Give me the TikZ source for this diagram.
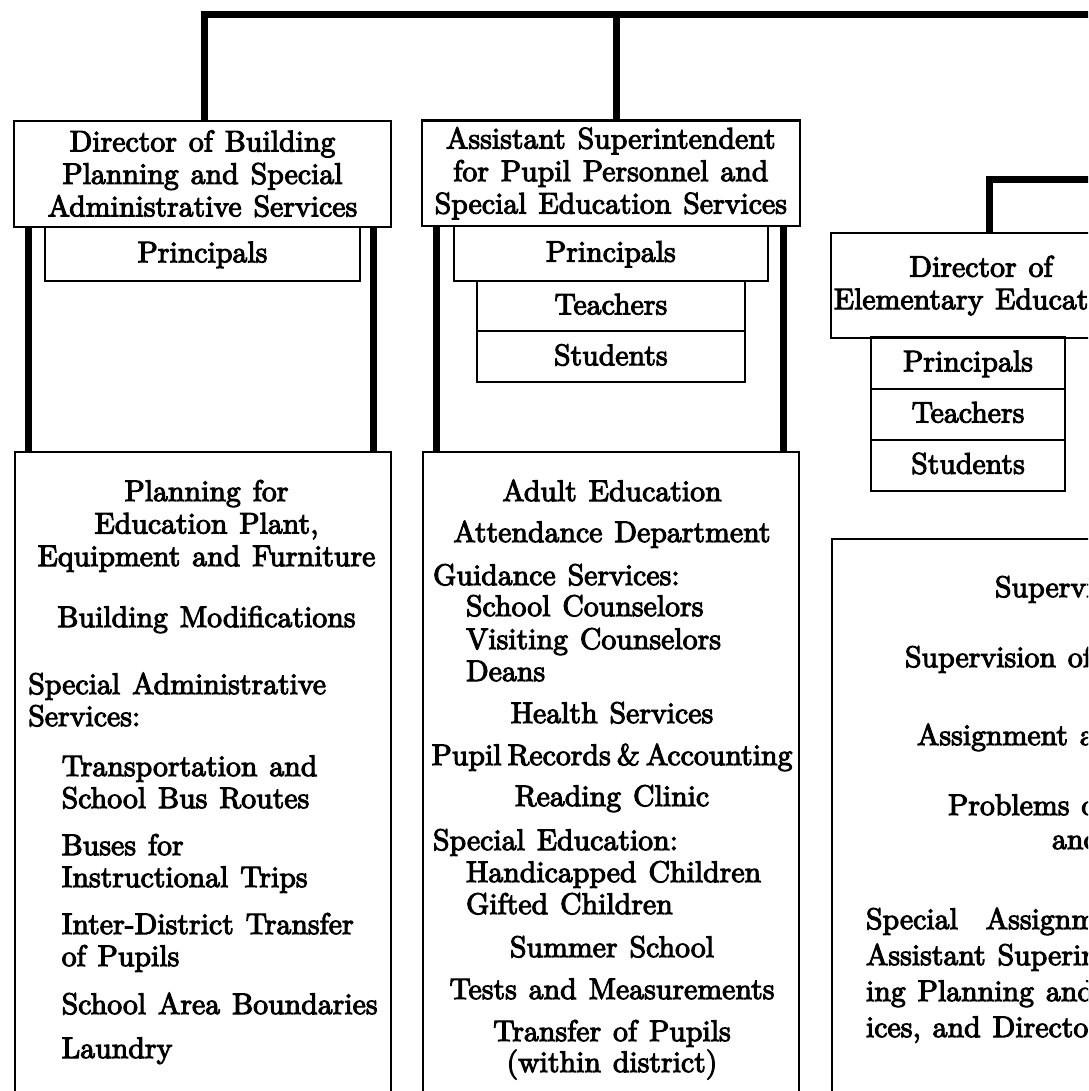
\documentclass[tikz,border=0pt]{standalone}
\usepackage{fontspec}
\newfontfamily\chartfont{lmroman10-regular.otf}[FakeBold=3.5]
\newcommand\chartsize{\chartfont\fontsize{14.9}{16.25}\selectfont\spaceskip=0.4em plus 0.1em minus 0.05em\relax}
\usetikzlibrary{positioning}

\begin{document}
\begin{tikzpicture}[x=0.5pt, y=-0.5pt,
  every node/.style={font=\chartsize, inner sep=0pt, outer sep=0pt},
  hd/.style={draw, line width=1.1pt, align=center},
  sb/.style={draw, line width=1pt, text height=10.4pt, text depth=2pt},
  du/.style={draw, line width=0.9pt, anchor=north},
  ln/.style={line width=3.5pt}
]
\useasboundingbox (0,0) rectangle (1088,1091);
\clip (0,0) rectangle (1088,1091);
% heads of the three columns
\node[hd, minimum width=188.2pt, minimum height=53pt] (h1) at (202.5,173.7) {Director of Building\\Planning and Special\\Administrative Services};
\node[hd, minimum width=189.15pt, minimum height=52.75pt] (h2) at (610.85,173.25) {Assistant Superintendent\\for Pupil Personnel and\\Special Education Services};
\node[hd, minimum width=150.3pt, minimum height=52.8pt] (h3) at (981,285.5) {Director of\\Elementary Educat\phantom{ion}};
% principals, teachers, students
\node[sb, minimum width=157.35pt, minimum height=27.15pt, below=0pt of h1] (p1) {Principals};
\node[sb, minimum width=157.2pt, minimum height=27.3pt, below=0pt of h2] (p2) {Principals};
\node[sb, minimum width=134.15pt, minimum height=25.4pt, below=0pt of p2] (t2) {Teachers};
\node[sb, minimum width=134.15pt, minimum height=25.4pt, below=0pt of t2] (s2) {Students};
\node[sb, minimum width=97pt, minimum height=25.6pt, anchor=north] (p3) at (968,337.3) {Principals};
\node[sb, minimum width=97pt, minimum height=25.6pt, below=0pt of p3] (t3) {Teachers};
\node[sb, minimum width=97pt, minimum height=25.6pt, below=0pt of t3] (s3) {Students};
% duty boxes
\node[du, minimum width=187.85pt, minimum height=340pt] (d1) at (202.85,451.7) {};
\node[du, minimum width=188.15pt, minimum height=340pt] (d2) at (611.15,451.7) {};
\node[du, anchor=north west, minimum width=200pt, minimum height=300pt] (d3) at (831.7,539.3) {};
% duties, left column
\foreach \x/\y/\a/\t [count=\i] in {206.5/501/base/Planning for, 206.5/533.5/base/{Education Plant,},
  206.5/566/base/Equipment and Furniture, 206.5/627/base/Building Modifications,
  28.3/694/base west/Special Administrative, 28.3/726/base west/Services:,
  61.7/776/base west/Transportation and, 61.7/808/base west/School Bus Routes,
  61.7/855/base west/Buses for, 61.7/887/base west/Instructional Trips,
  61.7/934/base west/Inter-District Transfer, 61.7/966/base west/of Pupils,
  61.7/1014/base west/School Area Boundaries, 61.7/1058/base west/Laundry}
  \node[anchor=\a] (l\i) at (\x,\y) {\t};
% duties, middle column
\foreach \x/\y/\a/\t [count=\i] in {612/501/base/Adult Education, 612/542/base/Attendance Department,
  433/585/base west/Guidance Services:, 466/616/base west/School Counselors,
  466/649/base west/Visiting Counselors, 466/681/base west/Deans,
  612/723/base/Health Services, 612/765/base/{\spaceskip=.2em\relax Pupil Records \& Accounting},
  612/806/base/Reading Clinic, 433/850/base west/Special Education:,
  466/882/base west/Handicapped Children, 466/914/base west/Gifted Children,
  612/957/base/Summer School, 612/999/base/Tests and Measurements,
  612/1041/base/Transfer of Pupils, 612/1072/base/{(within district)}}
  \node[anchor=\a] (m\i) at (\x,\y) {\t};
% duties, right column (cut off)
\foreach \x/\y/\t [count=\i] in {995/597/Supervi, 905/667/Supervision of, 917/745/Assignment a,
  948/815/Problems o, 1052/849/and, 866/929/Special \hspace{8pt}Assignm,
  866/965/Assistant Superin, 866/1001/ing Planning and, 866/1037/{ices, and Directo}}
  \node[anchor=base west] (r\i) at (\x,\y) {\t};
% lines of authority
\coordinate (bar1) at (1100,15);
\coordinate (bar2) at (1100,180);
\draw[ln] ([xshift=1pt]h1.north) |- (bar1);
\draw[ln] ([xshift=3pt]h2.north) -- ([xshift=3pt]h2.north |- bar1);
\draw[ln] ([xshift=4pt]h3.north) |- (bar2);
\foreach \h/\d in {h1/d1,h2/d2} {\draw[ln] ([xshift=7.2pt]\h.south west) -- ([xshift=7.2pt]\h.south west |- \d.north); \draw[ln] ([xshift=-8.4pt]\h.south east) -- ([xshift=-8.4pt]\h.south east |- \d.north);}
\end{tikzpicture}
\end{document}
